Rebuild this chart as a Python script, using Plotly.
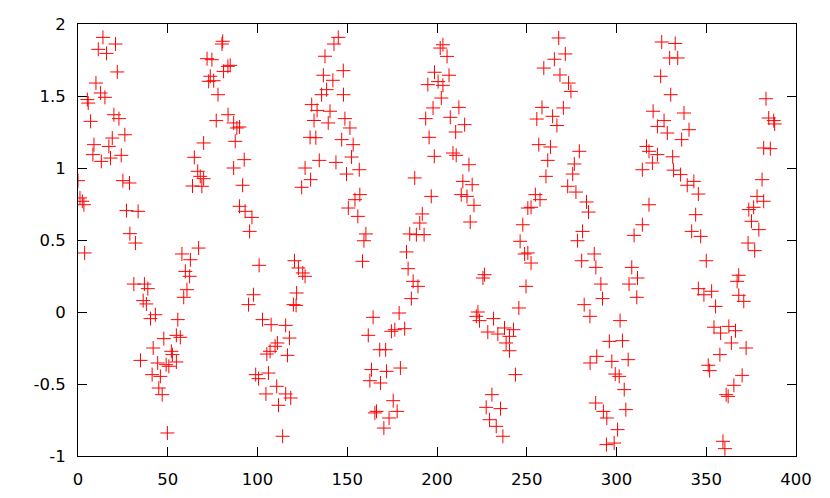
import plotly.graph_objects as go

# 読み取った散布点 (x, y)
x_vals = [
    0, 1.1, 2.4, 3.3, 3.7, 5.2, 5.7, 7.0, 8.3, 8.9, 10.0, 11.3, 12.6, 13.0, 13.9, 15.0,
    15.9, 17.2, 18.1, 19.1, 20.0, 20.9, 21.9, 22.8, 24.1, 25.0, 26.1, 27.0, 28.7, 28.9,
    31.1, 32.0, 33.5, 34.8, 36.3, 37.0, 38.1, 38.9, 40.4, 41.3, 41.9, 43.1, 44.4, 45.0,
    45.9, 46.9, 47.8, 49.1, 49.8, 50.6, 52.0, 52.6, 54.8, 54.8, 55.6, 57.0, 57.9, 58.9,
    59.8, 60.7, 62.2, 62.6, 63.8,
    64.8, 66.7, 67.2, 68.1, 69.0, 70.0, 70.0, 71.9, 72.8, 73.7, 74.6, 75.6, 77.0, 78.0,
    80.2, 80.6, 81.1, 83.5, 83.6, 84.8, 86.7, 86.7, 87.6, 88.5, 90.0, 90.0, 91.7, 92.6,
    93.1, 95.0, 95.6, 96.9, 97.8, 99.0, 100.6, 100.9, 102.8, 104.7, 105.2, 106.1, 107.0,
    107.6, 109.8, 110.7, 111.1, 111.7, 114.0, 115.7, 115.7, 116.7, 117.8, 118.5, 120.0,
    120.6, 121.5, 121.8, 122.8, 124.6, 125.2, 126.5, 126.5, 129.3, 129.6,
    130.2, 131.5, 132.5, 133.2, 134.4, 135.7, 136.7, 137.6, 138.5, 139.4, 140.4, 142.0,
    142.6, 143.7, 145.0, 146.9, 147.8, 147.9, 148.7, 149.6, 150.6, 151.5, 152.4, 153.3,
    154.3, 155.9, 156.7, 157.0, 158.5, 159.3, 160.4, 161.7, 162.6, 163.5, 164.4, 165.4,
    166.3, 168.1, 168.5, 170.4, 171.4, 171.9, 173.3, 174.6, 175.6, 176.5, 177.8, 178.9,
    179.6, 182.0, 183.0, 183.9, 184.8, 185.7, 186.7, 187.6, 188.5, 189.4, 190.4, 191.8,
    192.8, 193.7, 194.9, 195.6, 196.8, 197.8,
    198.6, 198.5, 200.6, 201.8, 202.4, 203.3, 203.3, 205.6, 206.7, 207.4, 208.9, 210.4,
    210.7, 212.2, 213.5, 214.4, 215.4, 216.7, 217.8, 218.5, 219.6, 220.6, 221.9, 222.8,
    223.7, 225.6, 226.5, 227.4, 228.3, 229.3, 230.6, 231.5, 233.0, 233.9, 235.4, 236.7,
    237.6, 238.5, 240.4, 240.4, 242.6, 243.7, 245.6, 246.3, 247.8, 248.8, 249.6, 250.6,
    250.6, 252.4, 252.4, 254.8, 255.6, 256.7, 257.4, 258.5, 259.5, 260.7, 261.7, 263.2,
    264.4,
    265.4, 266.8, 267.8, 268.5, 270.4, 271.5, 272.8, 273.3, 274.6, 275.6, 276.5, 277.4,
    278.3, 279.3, 280.6, 281.1, 282.0, 283.3, 284.4, 285.2, 285.3, 287.6, 288.4, 288.5,
    289.0, 291.3, 292.2, 292.7, 294.4, 294.6, 296.0, 297.4, 298.7, 299.3, 300.6, 301.5,
    302.0, 303.3, 304.3, 305.2, 306.5, 307.0, 308.5, 309.8, 311.3, 311.7, 314.4, 314.4,
    316.7, 318.1, 318.1, 320.0, 320.4, 322.8, 322.8, 324.6, 325.2, 326.5, 328.3, 329.6,
    330.2,
    331.3, 331.8, 332.7, 334.1, 335.7, 336.3, 337.6, 339.4, 340.4, 341.9, 343.1, 344.1,
    345.6, 345.6, 346.9, 348.7, 350.0, 351.1, 351.9, 353.0, 354.3, 355.2, 357.6, 358.0,
    359.3, 360.4, 361.1, 362.2, 362.6, 364.0, 365.4, 366.3, 367.2, 368.1, 368.1, 370.0,
    370.9, 372.2, 373.3, 373.7, 375.2, 376.4, 377.0, 378.3, 379.3, 381.1, 382.0, 382.0,
    383.3, 384.8, 385.7, 387.6, 388.1,
]
y_vals = [
    0.912, 0.792, 0.769, 0.745, 0.410, 1.475, 1.451, 1.324, 1.093, 1.162, 1.590, 1.824, 1.521, 1.046, 1.907, 1.491,
    1.796, 1.150, 1.069, 1.208, 1.370, 1.861, 1.667, 1.343, 1.088, 0.912, 1.231, 0.704, 0.896, 0.544,
    0.194, 0.479, 0.699, -0.336, 0.079, 0.194, 0.056, 0.162, -0.046, -0.435, -0.250, -0.019, -0.354, -0.528,
    -0.447, -0.574, -0.185, -0.366, -0.840, -0.377, -0.273, -0.296, -0.162, -0.347, -0.053, -0.176, 0.403, 0.102,
    0.282, 0.155, 0.248, 0.363, 0.875,
    1.074, 0.977, 0.444, 0.942, 0.873, 0.926, 1.174, 1.759, 1.602, 1.637, 1.752, 1.606, 1.329, 1.509,
    1.861, 1.880, 1.671, 1.706, 1.370, 1.713, 1.313, 1.000, 1.185, 1.278, 1.285, 0.734, 0.880, 1.058,
    0.699, 0.051, 0.560, 0.657, 0.120, -0.435, -0.463, 0.324, -0.053, -0.569, -0.292, -0.424, -0.273,
    -0.088, -0.238, -0.516, -0.215, -0.648, -0.863, -0.093, -0.569, -0.301, -0.181, -0.597, 0.051,
    0.356, 0.046, 0.132, 0.306, 0.866, 0.271, 0.248, 1.000, 1.213, 0.919,
    1.440, 1.330, 1.210, 1.400, 1.053, 1.509, 1.644, 1.776, 1.544, 1.313, 1.394, 1.609,
    1.861, 1.039, 1.907, 1.197, 1.676, 1.509, 1.343, 0.958, 0.722, 1.278, 1.076, 1.162,
    0.780, 0.664, 0.988, 0.815, 0.352, 0.495, 0.542, -0.162, -0.477, -0.400, -0.037, -0.701,
    -0.690, -0.262, -0.493, -0.806, -0.262, -0.412, -0.736, -0.134, -0.616, -0.123, -0.690, -0.007,
    -0.389, -0.116, 0.417, 0.301, 0.542, 0.093, 0.213, 0.931, 0.537, 0.178, 0.618, 0.681,
    0.537, 1.343, 1.579, 1.213, 0.803, 1.417,
    1.665, 1.081, 1.600, 1.833, 1.486, 1.856, 1.574, 1.775, 1.644, 1.352, 1.104, 1.250,
    1.088, 1.421, 0.815, 0.907, 1.301, 0.803, 1.023, 0.625, 0.884, 0.741, -0.030, 0.000,
    -0.060, 0.236, 0.259, -0.662, -0.139, -0.748, -0.574, -0.046, -0.794, -0.153, -0.671, -0.863,
    -0.111, -0.215, -0.169, -0.269, -0.123, -0.435, 0.028, 0.491, 0.606, 0.403, 0.178, 0.410,
    0.722, 0.340, 0.727, 0.815, 1.340, 1.162, 0.780, 1.421, 1.694, 0.942, 1.053, 1.146,
    1.359,
    1.755, 1.295, 1.903, 1.646, 1.417, 1.792, 0.873, 1.590, 1.532, 0.958, 1.028, 0.833,
    0.495, 1.116, 0.356, 0.560, 0.051, 0.764, 0.694, -0.030, -0.354, 0.403, -0.632, 0.310,
    -0.308, 0.194, 0.093, -0.690, -0.921, -0.736, -0.204, -0.343, -0.910, -0.431, -0.817, -0.447,
    -0.060, -0.199, -0.539, -0.678, -0.331, 0.194, 0.310, 0.532, 0.102, 0.236, 0.606, 0.988,
    1.150, 0.745, 1.116, 1.035, 1.394, 1.093, 1.289, 1.637, 1.875, 1.329, 1.243, 1.764,
    1.509,
    1.078, 0.985, 1.865, 1.764, 0.954, 1.197, 1.382, 0.880, 1.266, 0.560, 0.907, 0.676,
    0.819, 0.162, 0.525, 0.120, 0.356, -0.370, -0.407, 0.144, -0.106, 0.039, -0.296, -0.146,
    -0.898, -0.949, -0.574, -0.586, -0.100, -0.215, -0.509, -0.130, 0.213, 0.255, 0.116, -0.440,
    0.074, -0.250, 0.479, 0.711, 0.630, 0.727, 0.426, 0.803, 0.572, 0.919, 0.769, 1.139,
    1.481, 1.347, 1.134, 1.329, 1.306,
]

x_ticks = [0, 50, 100, 150, 200, 250, 300, 350, 400]
y_ticks = [-1, -0.5, 0, 0.5, 1, 1.5, 2]
y_tick_labels = ["-1", "-0.5", "0", "0.5", "1", "1.5", "2"]

fig = go.Figure()

fig.add_trace(go.Scatter(
    x=x_vals,
    y=y_vals,
    mode="markers",
    marker=dict(symbol="cross-thin-open", size=10, color="red", line=dict(color="red", width=1)),
    showlegend=False,
))

axis_common = dict(
    showline=True, linecolor="black", linewidth=1, mirror="allticks",
    ticks="inside", ticklen=9, tickcolor="black", tickwidth=1,
    showgrid=False, zeroline=False, automargin=False,
)

fig.update_xaxes(range=[0, 400], tickvals=x_ticks, ticktext=[str(v) for v in x_ticks],
                 ticklabelstandoff=8, **axis_common)
fig.update_yaxes(range=[-1, 2], tickvals=y_ticks, ticktext=y_tick_labels,
                 ticklabelstandoff=8, **axis_common)

fig.update_layout(
    width=830, height=498,
    margin=dict(l=78, r=34, t=24, b=42),
    paper_bgcolor="white", plot_bgcolor="white",
    font=dict(family="DejaVu Sans", size=16.5, color="black"),
)

# ページ余白を消して 830x498 にぴったり合わせる
fig.write_html("out.html", config={"displayModeBar": False},
               post_script="document.body.style.margin = '0';")
